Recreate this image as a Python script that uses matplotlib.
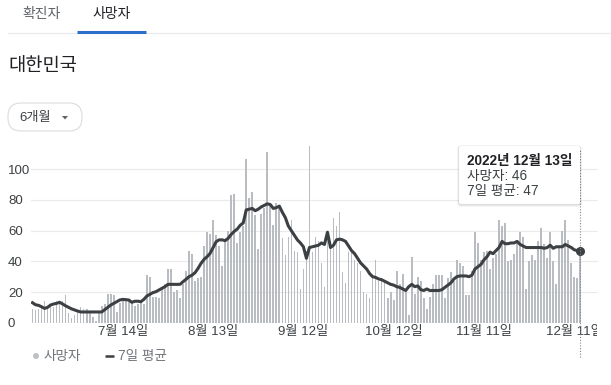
import matplotlib
matplotlib.use("Agg")
import matplotlib.pyplot as plt
import numpy as np
import pandas as pd
from matplotlib.patches import FancyBboxPatch, Polygon, Circle, Rectangle
from matplotlib.lines import Line2D
from matplotlib.transforms import IdentityTransform

plt.rcParams['font.family'] = ['Liberation Sans', 'Noto Sans CJK KR']

# ---------------- data ----------------
start_date = '2022-06-14'
deaths = [
    9, 8, 9, 10, 14, 10, 11, 10, 14, 13,
    14, 18, 6, 3, 5, 8, 10, 9, 9, 7,
    4, 1, 6, 11, 12, 19, 19, 18, 7, 13,
    14, 16, 15, 14, 11, 12, 14, 12, 31, 30,
    17, 17, 16, 23, 25, 35, 35, 20, 21, 16,
    25, 34, 47, 45, 27, 29, 30, 50, 59, 58,
    67, 57, 50, 37, 53, 60, 83, 84, 52, 59,
    63, 107, 81, 85, 70, 48, 71, 75, 111, 78,
    64, 78, 76, 55, 44, 56, 67, 47, 46, 22,
    35, 47, 115, 46, 56, 53, 39, 23, 58, 53,
    68, 63, 72, 33, 26, 46, 46, 41, 39, 34,
    20, 19, 16, 29, 41, 27, 29, 27, 16, 20,
    15, 34, 25, 32, 22, 5, 43, 19, 30, 27,
    16, 9, 17, 25, 31, 31, 31, 16, 29, 33,
    27, 41, 39, 37, 18, 18, 34, 59, 52, 41,
    46, 47, 35, 42, 45, 67, 63, 65, 40, 41,
    45, 52, 59, 56, 22, 40, 44, 41, 53, 62,
    51, 42, 59, 40, 25, 50, 60, 67, 54, 39,
    30, 29, 46,
]
avg7 = [
    13, 11.7, 11.3, 10.4, 9.3, 10, 11.5, 12.2, 12.6, 13.3,
    12.2, 11, 10, 9, 8.3, 7.6, 7, 7, 7, 7,
    7, 7, 7, 7, 8.5, 10, 11.5, 12.6, 13.7, 14.8,
    15.2, 15, 14.8, 13.3, 14, 14, 13.7, 15.2, 17.4, 18.5,
    19.6, 20.2, 21.3, 22.4, 23.5, 25, 25, 25, 25, 25,
    26.7, 28.3, 30, 31, 32.6, 35.4, 38.7, 41.3, 43, 45.2,
    49, 52.8, 54, 54, 53.5, 55, 57.5, 59.5, 61, 63.5,
    65, 73.5, 74, 74.5, 73, 74, 75.5, 76.5, 77.5, 77,
    74.5, 75, 76, 72, 68.5, 63, 60, 57, 54, 52,
    49.5, 42, 49, 49.5, 50, 50.5, 52, 51, 59, 49,
    50.5, 54, 54.5, 54, 53, 50, 47, 45, 42, 39,
    37, 35, 32, 30, 29.5, 28.5, 28, 27, 26, 25,
    24.5, 23.5, 23, 22, 21, 23.5, 25, 23.5, 24, 21.5,
    21, 22, 21, 21, 21, 21, 21.5, 23, 24.5, 26,
    28.5, 30, 30.5, 30.5, 30.5, 30, 31, 35, 36.5, 38,
    41, 43, 46, 45, 47, 49, 53, 51.5, 51.5, 52,
    52, 53, 51, 50, 49, 49, 49, 49, 49, 49,
    48.5, 49, 50.5, 48.5, 49.5, 49.5, 49.5, 51, 50, 49,
    47.5, 47, 47,
]
tick_dates = ['2022-07-14', '2022-08-13', '2022-09-12', '2022-10-12', '2022-11-11', '2022-12-11']
tick_labels = ['7월 14일', '8월 13일', '9월 12일', '10월 12일', '11월 11일', '12월 11일']
y_ticks = [0, 20, 40, 60, 80, 100]
tabs = ['확진자', '사망자']
title = '대한민국'
range_label = '6개월'
tooltip_title = '2022년 12월 13일'
tooltip_lines = ['사망자: 46', '7일 평균: 47']
legend_labels = ['사망자', '7일 평균']

dates = pd.date_range(start_date, periods=len(deaths))
days = np.arange(len(deaths))
tick_pos = [int((pd.Timestamp(d) - dates[0]).days) for d in tick_dates]

# ---------------- figure ----------------
W, H = 611, 385
fig = plt.figure(figsize=(W / 100, H / 100), dpi=100)
P = IdentityTransform()
def Y(py):
    return H - py

# axes placement (pixels)
ax_l, ax_r, ax_t, ax_b = 31, 598, 140, 323
ax = fig.add_axes([ax_l / W, 1 - ax_b / H, (ax_r - ax_l) / W, (ax_b - ax_t) / H])
px_per_day = 3.01
x0 = 32.5
ax.set_xlim((ax_l - x0) / px_per_day, (ax_r - x0) / px_per_day)
v_per_px = 1 / 1.534
ax.set_ylim((322.7 - ax_b) * v_per_px, (322.7 - ax_t) * v_per_px)

ax.bar(days, deaths, width=0.55, color='#b9bdc2', linewidth=0, zorder=2)
ax.plot(days, avg7, color='#3c4043', lw=2.2, zorder=3, solid_joinstyle='round')
ax.plot(days[-1], avg7[-1], 'o', color='#3c4043', ms=5.5, zorder=4, clip_on=False)
ax.axvline(days[-1], ymin=(ax_b - 357) / (ax_b - ax_t), ymax=(ax_b - 150) / (ax_b - ax_t),
           color='#80868b', lw=0.8, linestyle=(0, (1, 1.5)), clip_on=False, zorder=5)

for s in ax.spines.values():
    s.set_visible(False)
ax.set_yticks(y_ticks)
ax.set_yticklabels([str(v) for v in y_ticks])
ax.set_xticks(tick_pos)
ax.set_xticklabels(tick_labels)
ax.tick_params(axis='both', length=0, labelsize=9.5, labelcolor='#3c4043')
ax.tick_params(axis='y', pad=(ax_l - 8) * 0.72)
ax.tick_params(axis='x', pad=2)
for lab in ax.get_yticklabels():
    lab.set_horizontalalignment('left')
ax.yaxis.grid(True, color='#ebebeb', lw=0.8)
ax.set_axisbelow(True)

# the chart container clips at its right edge
fig.add_artist(Rectangle((597, Y(345)), W - 597, 21, transform=P, fc='white', ec='none', zorder=5))

# ---------------- header ----------------
fig.text(42, Y(14), tabs[0], transform=P, ha='center', va='center', fontsize=10, color='#5f6368')
fig.text(112, Y(14), tabs[1], transform=P, ha='center', va='center', fontsize=10, color='#202124')
fig.add_artist(Line2D([8, W], [Y(33), Y(33)], transform=P, color='#e8eaed', lw=0.8))
fig.add_artist(Line2D([77, 146], [Y(32), Y(32)], transform=P, color='#2b6fcb', lw=2.2,
                      solid_capstyle='butt'))
fig.text(8, Y(67), title, transform=P, ha='left', va='center', fontsize=13.5, color='#202124')

fig.add_artist(FancyBboxPatch((8, Y(131)), 74, 28, boxstyle='round,pad=0,rounding_size=13',
                              fc='white', ec='#dadce0', lw=0.8, transform=P))
fig.text(19, Y(118), range_label, transform=P, ha='left', va='center', fontsize=9.5, color='#3c4043')
fig.add_artist(Polygon([[62, Y(116)], [68, Y(116)], [65, Y(119.5)]], closed=True,
                       fc='#5f6368', ec='none', transform=P))

# ---------------- tooltip ----------------
bx, by, bw, bh = 459, 146, 121, 58
for i, a in enumerate([0.05, 0.05, 0.04]):
    g = i + 1
    fig.add_artist(FancyBboxPatch((bx - g * 0.6, Y(by + bh) - g), bw + g * 1.2, bh + g * 1.2,
                                  boxstyle='round,pad=0,rounding_size=3', fc='black', ec='none',
                                  alpha=a, transform=P, zorder=6))
fig.add_artist(FancyBboxPatch((bx, Y(by + bh)), bw, bh, boxstyle='round,pad=0,rounding_size=2',
                              fc='white', ec='none', transform=P, zorder=7))
fig.text(467, Y(161), tooltip_title, transform=P, ha='left', va='center', fontsize=9.8,
         fontweight='bold', color='#202124', zorder=8)
fig.text(467, Y(176), tooltip_lines[0], transform=P, ha='left', va='center', fontsize=9.8,
         color='#3c4043', zorder=8)
fig.text(467, Y(191), tooltip_lines[1], transform=P, ha='left', va='center', fontsize=9.8,
         color='#3c4043', zorder=8)

# ---------------- legend ----------------
fig.add_artist(Circle((36, Y(356)), 3, transform=P, fc='#bdc1c6', ec='none'))
fig.text(44, Y(356), legend_labels[0], transform=P, ha='left', va='center', fontsize=9.8, color='#70757a')
fig.add_artist(Line2D([105, 114], [Y(356), Y(356)], transform=P, color='#3c4043', lw=1.8,
                      solid_capstyle='butt'))
fig.text(118, Y(356), legend_labels[1], transform=P, ha='left', va='center', fontsize=9.8, color='#70757a')

fig.savefig('out.png', dpi=100, facecolor='white')
